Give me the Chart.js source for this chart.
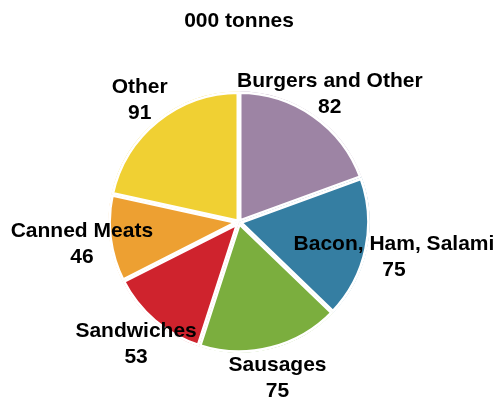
<!DOCTYPE html>
<html>
<head>
<meta charset="utf-8">
<style>
html,body{margin:0;padding:0;background:#fff;}
#wrap{position:relative;width:499px;height:402px;}
</style>
<script src="https://cdn.jsdelivr.net/npm/chart.js@4/dist/chart.umd.min.js"></script>
</head>
<body>
<div id="wrap"><canvas id="c" width="499" height="402"></canvas></div>
<script>
const categories = ["Burgers and Other", "Bacon, Ham, Salami", "Sausages", "Sandwiches", "Canned Meats", "Other"];
const values = [82, 75, 75, 53, 46, 91];
const colors = ["#9d84a4", "#357ea2", "#7bae3e", "#cf232d", "#eda032", "#f0d033"];
const titleText = "000 tonnes";

const FONT = '"Liberation Sans", Arial, sans-serif';

const labelPlugin = {
  id: 'sliceLabels',
  afterDatasetsDraw(chart) {
    const ctx = chart.ctx;
    const meta = chart.getDatasetMeta(0);
    ctx.save();
    ctx.font = 'bold 21px ' + FONT;
    ctx.fillStyle = '#000';
    ctx.textAlign = 'center';
    ctx.textBaseline = 'middle';
    meta.data.forEach((arc, i) => {
      const p = arc.getProps(['x', 'y', 'startAngle', 'endAngle', 'outerRadius'], true);
      const mid = (p.startAngle + p.endAngle) / 2;
      const r = p.outerRadius * 1.21;
      const cx = p.x + Math.cos(mid) * r;
      const cy = p.y + Math.sin(mid) * r + 2;
      ctx.fillText(categories[i], cx, cy - 13);
      ctx.fillText(String(values[i]), cx, cy + 13);
    });
    ctx.restore();
  }
};

new Chart(document.getElementById('c'), {
  type: 'pie',
  data: {
    labels: categories,
    datasets: [{
      data: values,
      backgroundColor: colors,
      borderColor: '#ffffff',
      borderWidth: 2.5,
      borderAlign: 'inner',
      hoverOffset: 0
    }]
  },
  options: {
    responsive: false,
    animation: false,
    events: [],
    layout: { padding: { top: 0, bottom: 49, left: 0, right: 21 } },
    plugins: {
      legend: { display: false },
      tooltip: { enabled: false },
      title: {
        display: true,
        text: titleText,
        color: '#000',
        font: { family: FONT, size: 21, weight: 'bold', lineHeight: 1.2 },
        padding: { top: 9, bottom: 57 }
      }
    }
  },
  plugins: [labelPlugin]
});
</script>
</body>
</html>
